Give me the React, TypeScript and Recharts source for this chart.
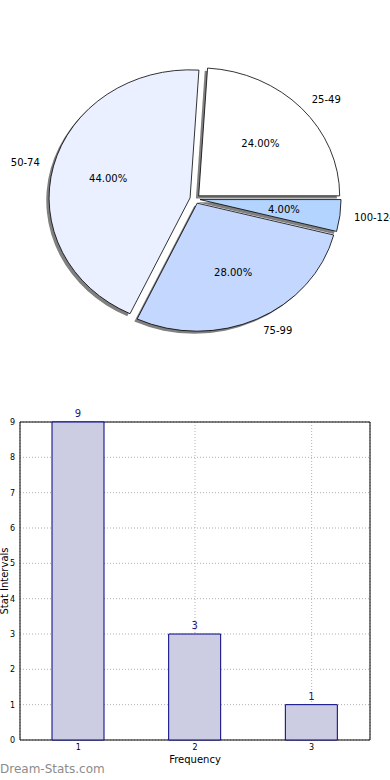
import { PieChart, Pie, Cell, BarChart, Bar, XAxis, YAxis, CartesianGrid, ReferenceArea } from 'recharts'

// pie: share of each interval (percent)
const sliceNames = ['25-49', '50-74', '75-99', '100-124']
const sliceShares = [24, 44, 28, 4]
const sliceColors = ['#ffffff', '#eaf0ff', '#c4d7ff', '#b3d4ff']

// bars
const barCategories = [1, 2, 3]
const barCounts = [9, 3, 1]
const xTicks = [1, 2, 3]
const yTicks = [0, 1, 2, 3, 4, 5, 6, 7, 8, 9]

const pieData = sliceNames.map((name, i) => ({ name, value: sliceShares[i] }))
const barData = barCategories.map((x, i) => ({ x, y: barCounts[i] }))

const RAD = Math.PI / 180
const SQUASH = 0.908 // matplotlib pie without equal aspect -> ellipse
const EXPLODE = 0.036

function explodedCenter(p: any) {
  const mid = (p.startAngle + p.endAngle) / 2
  const rx = p.outerRadius
  const ry = p.outerRadius * SQUASH
  return {
    x: p.cx + EXPLODE * rx * Math.cos(mid * RAD),
    y: p.cy - EXPLODE * ry * Math.sin(mid * RAD),
    rx, ry, mid,
  }
}

function wedgePath(cx: number, cy: number, rx: number, ry: number, a0: number, a1: number) {
  const x0 = cx + rx * Math.cos(a0 * RAD)
  const y0 = cy - ry * Math.sin(a0 * RAD)
  const x1 = cx + rx * Math.cos(a1 * RAD)
  const y1 = cy - ry * Math.sin(a1 * RAD)
  const large = Math.abs(a1 - a0) > 180 ? 1 : 0
  return `M${cx},${cy} L${x0},${y0} A${rx},${ry} 0 ${large} 0 ${x1},${y1} Z`
}

const Wedge = (p: any) => {
  const c = explodedCenter(p)
  return <path d={wedgePath(c.x, c.y, c.rx, c.ry, p.startAngle, p.endAngle)} fill={p.fill} stroke="#000" strokeWidth={0.8} />
}

const WedgeShadow = (p: any) => {
  const c = explodedCenter(p)
  return <path d={wedgePath(c.x - 2.8, c.y + 2.6, c.rx, c.ry, p.startAngle, p.endAngle)} fill="#808080" stroke="none" />
}

const renderPieLabel = (p: any) => {
  const c = explodedCenter(p)
  const cos = Math.cos(c.mid * RAD)
  const sin = Math.sin(c.mid * RAD)
  const nx = c.x + 1.1 * c.rx * cos
  const ny = c.y - 1.1 * c.ry * sin
  const px = c.x + 0.6 * c.rx * cos
  const py = c.y - 0.6 * c.ry * sin
  return (
    <g>
      <text x={nx} y={ny} dy="0.35em" textAnchor={cos > 0 ? 'start' : 'end'} fontSize={10} fill="#000">{p.name}</text>
      <text x={px} y={py} dy="0.35em" textAnchor="middle" fontSize={10} fill="#000">{(p.percent * 100).toFixed(2)}%</text>
    </g>
  )
}

export default function App() {
  return (
    <div style={{ position: 'absolute', left: 0, top: 0, width: 390, height: 780, overflow: 'hidden', background: '#fff', fontFamily: '"DejaVu Sans", sans-serif' }}>
      <PieChart width={390} height={390} margin={{ top: 0, right: 0, bottom: 0, left: 0 }}>
        <Pie data={pieData} dataKey="value" nameKey="name" cx={195} cy={199} outerRadius={141}
          startAngle={0} endAngle={360} shape={WedgeShadow} label={false} labelLine={false}
          isAnimationActive={false} />
        <Pie data={pieData} dataKey="value" nameKey="name" cx={195} cy={199} outerRadius={141}
          startAngle={0} endAngle={360} shape={Wedge} label={renderPieLabel} labelLine={false}
          isAnimationActive={false}>
          {pieData.map((d, i) => <Cell key={d.name} fill={sliceColors[i]} />)}
        </Pie>
      </PieChart>
      <BarChart width={390} height={390} data={barData} margin={{ top: 32, right: 20, bottom: 0, left: 0 }}>
        <CartesianGrid stroke="#b0b0b0" strokeDasharray="1 2" />
        <XAxis dataKey="x" type="number" domain={[0.5, 3.5]} ticks={xTicks} allowDataOverflow
          axisLine={false} tickLine={false} tickSize={4} tickMargin={0} height={40}
          tick={{ fontSize: 8, fill: '#000' }}
          label={{ value: 'Frequency', position: 'insideBottom', offset: 17, fontSize: 10, fill: '#000' }} />
        <YAxis type="number" domain={[0, 9]} ticks={yTicks} width={20}
          axisLine={false} tickLine={false} tickSize={4} tickMargin={1}
          tick={{ fontSize: 8, fill: '#000' }}
          label={{ content: () => (
            <text x={8} y={191} transform="rotate(-90 8 191)" textAnchor="middle" fontSize={10} fill="#000">Stat Intervals</text>
          ) }} />
        <Bar dataKey="y" barSize={52} fill="#ccccE3" stroke="#000080" strokeWidth={1}
          isAnimationActive={false}
          label={{ position: 'top', fill: '#1a1a80', fontSize: 10 }} />
        <ReferenceArea x1={0.5} x2={3.5} y1={0} y2={9} fill="none" fillOpacity={0} stroke="#000" strokeWidth={1} />
      </BarChart>
      <div style={{ position: 'absolute', left: 0, top: 761, fontSize: 12, color: '#8c8c8c', fontFamily: '"DejaVu Sans", sans-serif', lineHeight: '16px' }}>
        Dream-Stats.com
      </div>
    </div>
  )
}
